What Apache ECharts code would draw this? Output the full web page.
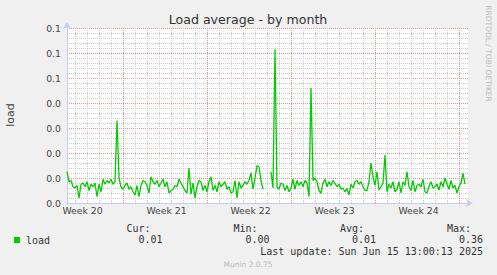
<!DOCTYPE html>
<html><head><meta charset="utf-8">
<script src="https://cdn.jsdelivr.net/npm/echarts@6/dist/echarts.min.js"></script>
<style>html,body{margin:0;padding:0;background:#f0f0f0}#c{width:497px;height:275px}</style>
</head><body><div id="c"></div>
<script>
const chartTitle = 'Load average - by month';
const yAxisTitle = 'load';
const seriesName = 'load';
const stepHours = 4;            // one sample every 4 hours
const rangeHours = 802;         // visible time span (about 33 days)
const loadValues = [
0.0125,0.0085,0.009,0.0065,0.006,0.007,0.002,0.0075,0.008,0.0065,
0.0085,0.005,0.0075,0.0065,0.008,0.0025,0.0075,0.0045,0.0095,0.0075,
0.009,0.008,0.0095,0.0075,0.0085,0.033,0.010,0.0065,0.0055,0.007,
0.008,0.0055,0.0065,0.0045,0.0032,0.007,0.0025,0.007,0.009,0.0085,
0.007,0.004,0.0105,0.0085,0.0075,0.009,0.0065,0.008,0.0095,0.0065,
0.0085,0.004,0.005,0.0055,0.007,0.0065,0.0095,0.008,0.0065,0.005,
0.004,0.014,0.0035,0.008,0.002,0.0065,0.009,0.0085,0.005,0.007,
0.0045,0.0085,0.0105,0.005,0.007,0.0045,0.0085,0.0065,0.0075,0.0085,
0.0055,0.0065,0.004,0.0045,0.009,0.002,0.0085,0.006,0.007,0.0085,
0.0075,0.009,0.012,0.0055,0.010,0.015,0.0145,0.009,0.0055,null,
null,null,0.0125,0.006,0.0615,0.0065,0.0055,0.008,0.0075,0.005,
0.007,0.0045,0.006,0.0095,0.0055,0.009,0.007,0.0085,0.0065,0.009,
0.008,0.0025,0.046,0.009,0.010,0.0085,0.005,0.0039,0.008,0.0095,
0.0065,0.0085,0.007,0.009,0.0078,0.0065,0.0075,0.0055,0.006,0.0045,
0.0058,0.0032,0.0075,0.006,0.0085,0.009,0.0075,0.0085,0.0065,0.005,
0.005,0.0085,0.016,0.0105,0.007,0.0125,0.0052,0.0065,0.008,0.0192,
0.0045,0.0075,0.006,0.0085,0.0045,0.0055,0.0085,0.004,0.0085,0.007,
0.0125,0.0065,0.005,0.009,0.0045,0.007,0.0075,0.0065,0.0095,0.0045,
0.004,0.0065,0.0085,0.006,0.0065,0.0075,0.0052,0.0085,0.0065,0.010,
0.0075,0.0055,0.009,0.006,0.007,0.004,0.0065,0.008,0.0119,0.0075
];
const weekLabels = ['Week 20','Week 21','Week 22','Week 23','Week 24'];
const weekLabelHours = [31,199,367,535,703];
const majorGridHours = [113,281,449,617,785];
const minorGridStartHour = 17, minorGridStepHours = 24;
const yMax = 0.07, yStep = 0.01;
const yTickLabels = ['0.0','0.0','0.0','0.0','0.0','0.1','0.1','0.1'];
const statLabels = ['Cur:','Min:','Avg:','Max:'];
const statValues = ['0.01','0.00','0.01','0.36'];
const lastUpdate = 'Last update: Sun Jun 15 13:00:13 2025';
const footerText = 'Munin 2.0.75';
const sideText = 'RRDTOOL / TOBI OETIKER';

const seriesData = loadValues.map((v, i) => [i * stepHours, v]);
const majorColor = '#e89090';
const minorColor = '#cccccc';
const gridLines = [];
for (let h = minorGridStartHour; h < rangeHours; h += minorGridStepHours) {
  if (majorGridHours.indexOf(h) === -1) gridLines.push({xAxis: h, lineStyle: {color: minorColor, type: [1, 1], width: 1}});
}
majorGridHours.forEach(h => gridLines.push({xAxis: h, lineStyle: {color: majorColor, type: [1, 1], width: 1}}));

const axisColor = '#c6cdf2';
const sans = 'DejaVu Sans';
const mono = 'DejaVu Sans Mono';
const statRight = [162.5, 269.5, 376, 483];

const graphics = [
  {type: 'text', x: 248, y: 19, style: {text: chartTitle, font: '12.6px "' + sans + '"', fill: '#333', textAlign: 'center', textVerticalAlign: 'middle'}},
  {type: 'text', x: 10, y: 115, rotation: Math.PI / 2, style: {text: yAxisTitle, font: '11px "' + sans + '"', fill: '#444', textAlign: 'center', textVerticalAlign: 'middle'}},
  {type: 'text', x: 488.5, y: 53.5, rotation: -Math.PI / 2, style: {text: sideText, font: '7.5px "' + sans + '"', fill: '#bbb', textAlign: 'center', textVerticalAlign: 'middle'}},
  {type: 'text', x: 483, y: 251, style: {text: lastUpdate, font: '10px "' + mono + '"', fill: '#333', textAlign: 'right', textVerticalAlign: 'middle'}},
  {type: 'text', x: 248, y: 264.5, style: {text: footerText, font: '7.5px "' + sans + '"', fill: '#bbb', textAlign: 'center', textVerticalAlign: 'middle'}},
  {type: 'rect', shape: {x: 14, y: 237, width: 6, height: 6}, style: {fill: '#00cc00'}},
  {type: 'text', x: 26, y: 240, style: {text: seriesName, font: '10px "' + mono + '"', fill: '#333', textAlign: 'left', textVerticalAlign: 'middle'}}
];
statLabels.forEach((s, k) => {
  graphics.push({type: 'text', x: statRight[k] - 12, y: 228.5, style: {text: s, font: '10px "' + mono + '"', fill: '#333', textAlign: 'right', textVerticalAlign: 'middle'}});
  graphics.push({type: 'text', x: statRight[k], y: 239.5, style: {text: statValues[k], font: '10px "' + mono + '"', fill: '#333', textAlign: 'right', textVerticalAlign: 'middle'}});
});

const chart = echarts.init(document.getElementById('c'), null, {renderer: 'svg'});
chart.setOption({
  animation: false,
  backgroundColor: '#f0f0f0',
  grid: {left: 67, top: 28, width: 401, height: 175, show: true, backgroundColor: '#ffffff', borderWidth: 0},
  xAxis: {
    type: 'value', min: 0, max: rangeHours,
    axisLine: {show: true, lineStyle: {color: axisColor, width: 1}, symbol: ['none', 'arrow'], symbolSize: [6, 7], symbolOffset: [0, 5]},
    axisTick: {show: false},
    splitLine: {show: false},
    axisLabel: {
      customValues: weekLabelHours, margin: 3,
      fontFamily: sans, fontSize: 9.3, color: '#444',
      formatter: v => { const k = weekLabelHours.indexOf(Math.round(v)); return k >= 0 ? weekLabels[k] : ''; }
    }
  },
  yAxis: {
    type: 'value', min: 0, max: yMax, interval: yStep,
    axisLine: {show: true, lineStyle: {color: axisColor, width: 1}, symbol: ['none', 'arrow'], symbolSize: [6, 7], symbolOffset: [0, 6]},
    axisTick: {show: false},
    splitLine: {show: true, lineStyle: {color: majorColor, type: [1, 1], width: 1}},
    minorTick: {show: false, splitNumber: 5},
    minorSplitLine: {show: true, lineStyle: {color: minorColor, type: [1, 1], width: 1}},
    axisLabel: {
      margin: 6, fontFamily: sans, fontSize: 9.3, color: '#444',
      formatter: v => yTickLabels[Math.round(v / yStep)]
    }
  },
  series: [
    {
      type: 'line', name: 'grid', data: [], silent: true, z: 1,
      markLine: {symbol: 'none', silent: true, animation: false, label: {show: false}, emphasis: {disabled: true}, data: gridLines}
    },
    {
      type: 'line', name: seriesName, data: seriesData, showSymbol: false, connectNulls: false, z: 5,
      color: '#00cc00', lineStyle: {color: '#00cc00', width: 1.3}, emphasis: {disabled: true}
    }
  ],
  graphic: graphics
});
</script>
</body></html>
